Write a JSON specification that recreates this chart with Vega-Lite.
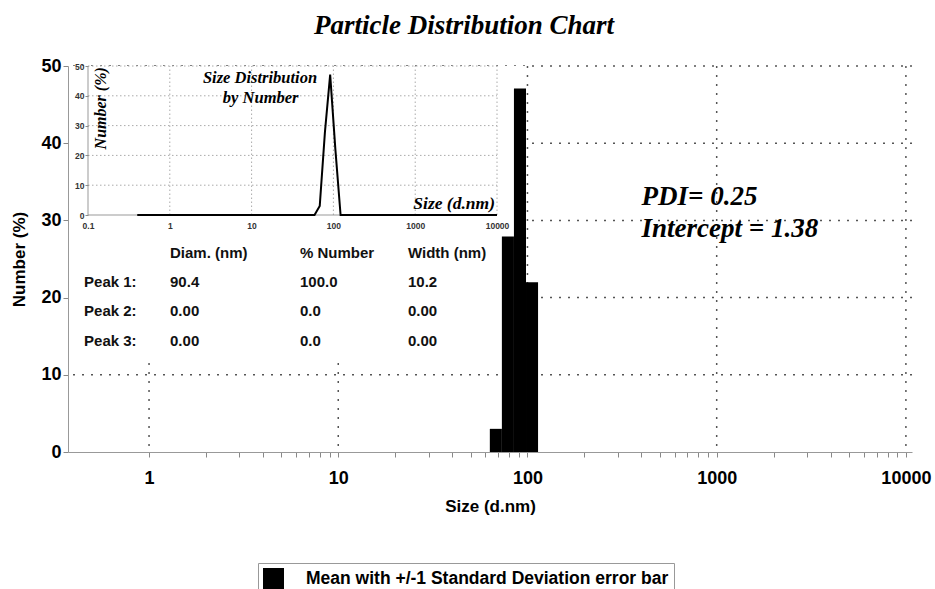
{
  "$schema": "https://vega.github.io/schema/vega-lite/v6.json",
  "width": 844,
  "height": 386,
  "autosize": {"type": "none"},
  "padding": {"left": 68, "top": 66, "right": 23, "bottom": 137},
  "background": "white",
  "config": {"view": {"stroke": null}},
  "title": {
    "text": "Particle Distribution Chart",
    "font": "Liberation Serif",
    "fontSize": 27,
    "fontWeight": "bold",
    "fontStyle": "italic",
    "color": "black",
    "anchor": "middle",
    "frame": "bounds",
    "dx": -7,
    "offset": 17
  },
  "datasets": {
    "summary": [{"pdi": "PDI= 0.25", "intercept": "Intercept = 1.38"}],
    "histogram": [
      {"size_min": 63.25, "size_max": 73.24, "number": 3.0},
      {"size_min": 73.24, "size_max": 84.82, "number": 27.9},
      {"size_min": 84.82, "size_max": 98.23, "number": 47.1},
      {"size_min": 98.23, "size_max": 113.74, "number": 22.0}
    ],
    "distribution": [
      {"size": 0.4, "number": 0},
      {"size": 58.77, "number": 0},
      {"size": 68.06, "number": 3.0},
      {"size": 78.82, "number": 27.9},
      {"size": 91.28, "number": 47.1},
      {"size": 105.7, "number": 22.0},
      {"size": 122.4, "number": 0},
      {"size": 10000, "number": 0}
    ],
    "peaks": [
      {"line": 0, "peak": "", "diam": "Diam. (nm)", "number": "% Number", "width": "Width (nm)"},
      {"line": 1, "peak": "Peak 1:", "diam": "90.4", "number": "100.0", "width": "10.2"},
      {"line": 2, "peak": "Peak 2:", "diam": "0.00", "number": "0.0", "width": "0.00"},
      {"line": 3, "peak": "Peak 3:", "diam": "0.00", "number": "0.0", "width": "0.00"}
    ],
    "numberLines": [{"number": 10}, {"number": 20}, {"number": 30}, {"number": 40}, {"number": 50}],
    "sizeLines": [{"size": 1}, {"size": 10}, {"size": 100}, {"size": 1000}, {"size": 10000}]
  },
  "data": {"name": "summary"},
  "resolve": {"scale": {"x": "independent", "y": "independent"}},
  "layer": [
    {
      "layer": [
        {
          "data": {"name": "numberLines"},
          "mark": {"type": "rule", "color": "#555", "strokeDash": [2, 7], "strokeWidth": 1.5},
          "encoding": {
            "y": {"field": "number", "type": "quantitative", "scale": {"domain": [0, 50], "nice": false, "zero": false}}
          }
        },
        {
          "data": {"name": "sizeLines"},
          "mark": {"type": "rule", "color": "#555", "strokeDash": [2, 7], "strokeWidth": 1.5},
          "encoding": {
            "x": {"field": "size", "type": "quantitative", "scale": {"type": "log", "domain": [0.373, 10770], "nice": false}}
          }
        },
        {
          "mark": {"type": "rect", "fill": "white"},
          "encoding": {
            "x": {"datum": 0.373, "type": "quantitative", "scale": {"type": "log", "domain": [0.373, 10770], "nice": false}},
            "x2": {"datum": 97},
            "y": {"datum": 11.7, "type": "quantitative", "scale": {"domain": [0, 50], "nice": false, "zero": false}},
            "y2": {"datum": 50}
          }
        },
        {
          "data": {"name": "histogram"},
          "mark": {"type": "rect"},
          "encoding": {
            "x": {
              "field": "size_min", "type": "quantitative",
              "scale": {"type": "log", "domain": [0.373, 10770], "nice": false},
              "axis": {
                "title": "Size (d.nm)",
                "values": [1, 2, 3, 4, 5, 6, 7, 8, 9, 10, 20, 30, 40, 50, 60, 70, 80, 90, 100, 200, 300, 400, 500, 600, 700, 800, 900, 1000, 2000, 3000, 4000, 5000, 6000, 7000, 8000, 9000, 10000],
                "format": "d",
                "labelExpr": "indexof([1, 10, 100, 1000, 10000], datum.value) >= 0 ? datum.label : ''",
                "labelFont": "Liberation Sans", "labelFontSize": 18, "labelFontWeight": "bold", "labelColor": "black",
                "labelPadding": 12, "labelFlush": false, "labelOverlap": false,
                "tickSize": 5, "tickColor": "#888", "domainColor": "#999", "grid": false,
                "titleFont": "Liberation Sans", "titleFontSize": 17, "titleFontWeight": "bold", "titleColor": "black", "titlePadding": 11,
                "zindex": 1
              }
            },
            "x2": {"field": "size_max"},
            "y": {
              "field": "number", "type": "quantitative",
              "scale": {"domain": [0, 50], "nice": false, "zero": false},
              "axis": {
                "title": "Number (%)",
                "values": [0, 5, 10, 15, 20, 25, 30, 35, 40, 45, 50],
                "labelExpr": "datum.value % 10 == 0 ? datum.label : ''",
                "labelFont": "Liberation Sans", "labelFontSize": 18, "labelFontWeight": "bold", "labelColor": "black",
                "labelPadding": 2, "tickSize": 5, "tickColor": "#888", "domainColor": "#999", "grid": false,
                "titleFont": "Liberation Sans", "titleFontSize": 17, "titleFontWeight": "bold", "titleColor": "black", "titlePadding": 12,
                "zindex": 1
              }
            },
            "y2": {"datum": 0},
            "color": {
              "datum": "Mean with +/-1 Standard Deviation error bar",
              "type": "nominal",
              "scale": {"range": ["black"]},
              "legend": {
                "orient": "none", "legendX": 190, "legendY": 497,
                "title": null,
                "symbolType": "square", "symbolSize": 441, "symbolStrokeWidth": 0,
                "labelFont": "Liberation Sans", "labelFontSize": 17.5, "labelFontWeight": "bold", "labelColor": "black",
                "labelOffset": 22, "labelLimit": 0,
                "strokeColor": "#999", "fillColor": "white", "padding": 5
              }
            }
          }
        },
        {
          "mark": {"type": "text", "font": "Liberation Serif", "fontSize": 27, "fontWeight": "bold", "fontStyle": "italic", "align": "left", "baseline": "alphabetic", "color": "black"},
          "encoding": {
            "x": {"datum": 401, "type": "quantitative", "scale": {"type": "log", "domain": [0.373, 10770], "nice": false}},
            "y": {"datum": 32.0, "type": "quantitative", "scale": {"domain": [0, 50], "nice": false, "zero": false}},
            "text": {"field": "pdi"}
          }
        },
        {
          "mark": {"type": "text", "font": "Liberation Serif", "fontSize": 27, "fontWeight": "bold", "fontStyle": "italic", "align": "left", "baseline": "alphabetic", "color": "black"},
          "encoding": {
            "x": {"datum": 401, "type": "quantitative", "scale": {"type": "log", "domain": [0.373, 10770], "nice": false}},
            "y": {"datum": 27.9, "type": "quantitative", "scale": {"domain": [0, 50], "nice": false, "zero": false}},
            "text": {"field": "intercept"}
          }
        }
      ]
    },
    {
      "layer": [
        {
          "data": {"name": "numberLines"},
          "mark": {"type": "rule", "color": "#aaa", "strokeDash": [1.5, 2.5], "strokeWidth": 1},
          "encoding": {
            "x": {"datum": 0.1, "type": "quantitative", "scale": {"type": "log", "domain": [0.05694, 1.184e9], "nice": false}},
            "x2": {"datum": 10000},
            "y": {"field": "number", "type": "quantitative", "scale": {"domain": [-79.53, 50], "nice": false, "zero": false}}
          }
        },
        {
          "data": {"name": "sizeLines"},
          "mark": {"type": "rule", "color": "#aaa", "strokeDash": [1.5, 2.5], "strokeWidth": 1},
          "encoding": {
            "x": {"field": "size", "type": "quantitative", "scale": {"type": "log", "domain": [0.05694, 1.184e9], "nice": false}},
            "y": {"datum": 0, "type": "quantitative", "scale": {"domain": [-79.53, 50], "nice": false, "zero": false}},
            "y2": {"datum": 50}
          }
        },
        {
          "mark": {"type": "rule", "color": "#999", "strokeWidth": 1},
          "encoding": {
            "x": {"datum": 0.1, "type": "quantitative", "scale": {"type": "log", "domain": [0.05694, 1.184e9], "nice": false}},
            "y": {"datum": 0, "type": "quantitative", "scale": {"domain": [-79.53, 50], "nice": false, "zero": false}},
            "y2": {"datum": 50}
          }
        },
        {
          "mark": {"type": "rule", "color": "#999", "strokeWidth": 1},
          "encoding": {
            "x": {"datum": 0.1, "type": "quantitative", "scale": {"type": "log", "domain": [0.05694, 1.184e9], "nice": false}},
            "x2": {"datum": 10000},
            "y": {"datum": 0, "type": "quantitative", "scale": {"domain": [-79.53, 50], "nice": false, "zero": false}}
          }
        },
        {
          "data": {"name": "distribution"},
          "mark": {"type": "line", "color": "black", "strokeWidth": 2},
          "encoding": {
            "x": {
              "field": "size", "type": "quantitative",
              "scale": {"type": "log", "domain": [0.05694, 1.184e9], "nice": false},
              "axis": {
                "orient": "bottom", "offset": -237,
                "values": [0.1, 1, 10, 100, 1000, 10000], "format": "~g",
                "title": null, "domain": false, "ticks": false, "tickSize": 0, "grid": false,
                "labelFont": "Liberation Sans", "labelFontSize": 8.5, "labelFontWeight": "bold", "labelColor": "#333",
                "labelPadding": 6, "labelFlush": false, "labelOverlap": false,
                "zindex": 1
              }
            },
            "y": {
              "field": "number", "type": "quantitative",
              "scale": {"domain": [-79.53, 50], "nice": false, "zero": false},
              "axis": {
                "orient": "left", "offset": -20,
                "values": [0, 5, 10, 15, 20, 25, 30, 35, 40, 45, 50],
                "labelExpr": "datum.value % 10 == 0 ? datum.label : ''",
                "title": null, "domain": false, "ticks": true, "tickSize": 3, "tickColor": "#888", "grid": false,
                "labelFont": "Liberation Sans", "labelFontSize": 8.5, "labelFontWeight": "bold", "labelColor": "#333",
                "labelPadding": 1,
                "zindex": 1
              }
            }
          }
        },
        {
          "mark": {"type": "text", "text": "Size Distribution", "font": "Liberation Serif", "fontSize": 16.5, "fontWeight": "bold", "fontStyle": "italic", "align": "center", "baseline": "alphabetic", "color": "black"},
          "encoding": {
            "x": {"datum": 12.67, "type": "quantitative", "scale": {"type": "log", "domain": [0.05694, 1.184e9], "nice": false}},
            "y": {"datum": 44.2, "type": "quantitative", "scale": {"domain": [-79.53, 50], "nice": false, "zero": false}}
          }
        },
        {
          "mark": {"type": "text", "text": "by Number", "font": "Liberation Serif", "fontSize": 16.5, "fontWeight": "bold", "fontStyle": "italic", "align": "center", "baseline": "alphabetic", "color": "black"},
          "encoding": {
            "x": {"datum": 12.9, "type": "quantitative", "scale": {"type": "log", "domain": [0.05694, 1.184e9], "nice": false}},
            "y": {"datum": 37.5, "type": "quantitative", "scale": {"domain": [-79.53, 50], "nice": false, "zero": false}}
          }
        },
        {
          "mark": {"type": "text", "text": "Number (%)", "font": "Liberation Serif", "fontSize": 16, "fontWeight": "bold", "fontStyle": "italic", "align": "center", "baseline": "middle", "angle": 270, "color": "black"},
          "encoding": {
            "x": {"datum": 0.143, "type": "quantitative", "scale": {"type": "log", "domain": [0.05694, 1.184e9], "nice": false}},
            "y": {"datum": 35.8, "type": "quantitative", "scale": {"domain": [-79.53, 50], "nice": false, "zero": false}}
          }
        },
        {
          "mark": {"type": "text", "text": "Size (d.nm)", "font": "Liberation Serif", "fontSize": 17.5, "fontWeight": "bold", "fontStyle": "italic", "align": "right", "baseline": "alphabetic", "color": "black"},
          "encoding": {
            "x": {"datum": 9454, "type": "quantitative", "scale": {"type": "log", "domain": [0.05694, 1.184e9], "nice": false}},
            "y": {"datum": 1.9, "type": "quantitative", "scale": {"domain": [-79.53, 50], "nice": false, "zero": false}}
          }
        }
      ]
    },
    {
      "data": {"name": "peaks"},
      "layer": [
        {
          "mark": {"type": "text", "font": "Liberation Sans", "fontSize": 15, "fontWeight": "bold", "align": "left", "baseline": "alphabetic", "color": "#111"},
          "encoding": {
            "x": {"datum": 0.4534, "type": "quantitative", "scale": {"type": "log", "domain": [0.373, 10770], "nice": false}, "axis": null},
            "y": {"field": "line", "type": "quantitative", "scale": {"domain": [-6.608, 6.657], "reverse": true, "nice": false, "zero": false}, "axis": null},
            "text": {"field": "peak"}
          }
        },
        {
          "mark": {"type": "text", "font": "Liberation Sans", "fontSize": 15, "fontWeight": "bold", "align": "left", "baseline": "alphabetic", "color": "#111"},
          "encoding": {
            "x": {"datum": 1.291, "type": "quantitative", "scale": {"type": "log", "domain": [0.373, 10770], "nice": false}, "axis": null},
            "y": {"field": "line", "type": "quantitative", "scale": {"domain": [-6.608, 6.657], "reverse": true, "nice": false, "zero": false}, "axis": null},
            "text": {"field": "diam"}
          }
        },
        {
          "mark": {"type": "text", "font": "Liberation Sans", "fontSize": 15, "fontWeight": "bold", "align": "left", "baseline": "alphabetic", "color": "#111"},
          "encoding": {
            "x": {"datum": 6.28, "type": "quantitative", "scale": {"type": "log", "domain": [0.373, 10770], "nice": false}, "axis": null},
            "y": {"field": "line", "type": "quantitative", "scale": {"domain": [-6.608, 6.657], "reverse": true, "nice": false, "zero": false}, "axis": null},
            "text": {"field": "number"}
          }
        },
        {
          "mark": {"type": "text", "font": "Liberation Sans", "fontSize": 15, "fontWeight": "bold", "align": "left", "baseline": "alphabetic", "color": "#111"},
          "encoding": {
            "x": {"datum": 23.36, "type": "quantitative", "scale": {"type": "log", "domain": [0.373, 10770], "nice": false}, "axis": null},
            "y": {"field": "line", "type": "quantitative", "scale": {"domain": [-6.608, 6.657], "reverse": true, "nice": false, "zero": false}, "axis": null},
            "text": {"field": "width"}
          }
        }
      ]
    }
  ]
}
